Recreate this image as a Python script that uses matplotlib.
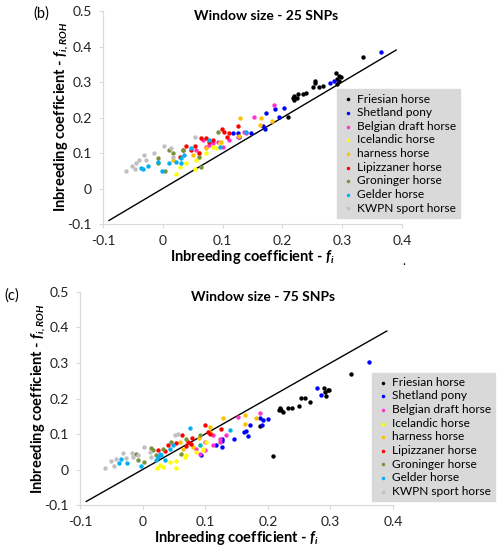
import numpy as np
import matplotlib
matplotlib.use("Agg")
import matplotlib.pyplot as plt

plt.rcParams['font.family'] = ['Lato', 'DejaVu Sans']
plt.rcParams['mathtext.fontset'] = 'custom'
plt.rcParams['mathtext.rm'] = 'Lato'
plt.rcParams['mathtext.it'] = 'Lato:italic'
plt.rcParams['mathtext.bf'] = 'Lato:bold'
plt.rcParams['mathtext.bfit'] = 'Lato:bold:italic'

breeds = ["Friesian horse", "Shetland pony", "Belgian draft horse", "Icelandic horse",
          "harness horse", "Lipizzaner horse", "Groninger horse", "Gelder horse",
          "KWPN sport horse"]
colors = ["#000000", "#0000ff", "#ff33cc", "#ffff00", "#ffc000", "#ff0000",
          "#77933c", "#00b0f0", "#c0c0c0"]

# window size 25 SNPs: (f_i, f_i,ROH)
w25 = {
    "Friesian horse": [(0.334, 0.370), (0.290, 0.326), (0.295, 0.317), (0.298, 0.313), (0.292, 0.308),
                       (0.295, 0.304), (0.291, 0.294), (0.254, 0.304), (0.255, 0.296), (0.251, 0.285),
                       (0.261, 0.285), (0.268, 0.289), (0.240, 0.270), (0.234, 0.267), (0.226, 0.265),
                       (0.220, 0.261), (0.217, 0.256), (0.224, 0.254), (0.220, 0.249), (0.210, 0.202)],
    "Shetland pony": [(0.364, 0.385), (0.286, 0.302), (0.280, 0.296), (0.202, 0.226), (0.188, 0.223),
                      (0.194, 0.202), (0.173, 0.212), (0.167, 0.176), (0.170, 0.169), (0.148, 0.155),
                      (0.117, 0.155), (0.125, 0.157), (0.128, 0.146)],
    "Belgian draft horse": [(0.186, 0.235), (0.153, 0.202), (0.139, 0.157), (0.136, 0.160), (0.125, 0.146),
                            (0.111, 0.136), (0.100, 0.118), (0.092, 0.132), (0.084, 0.127), (0.078, 0.122),
                            (0.067, 0.136), (0.072, 0.118), (0.056, 0.108)],
    "Icelandic horse": [(0.053, 0.056), (0.022, 0.042), (0.028, 0.061), (0.039, 0.071), (0.061, 0.089),
                        (0.072, 0.099), (0.084, 0.118), (0.089, 0.113), (0.095, 0.127), (0.056, 0.080)],
    "harness horse": [(0.129, 0.198), (0.164, 0.198), (0.163, 0.179), (0.182, 0.190), (0.128, 0.148),
                      (0.098, 0.132), (0.061, 0.099), (0.072, 0.113), (0.050, 0.094), (0.017, 0.080)],
    "Lipizzaner horse": [(0.099, 0.167), (0.103, 0.160), (0.111, 0.155), (0.125, 0.176), (0.108, 0.146),
                         (0.072, 0.141), (0.064, 0.141), (0.053, 0.119), (0.039, 0.119), (0.047, 0.108),
                         (0.061, 0.099), (0.028, 0.089), (0.033, 0.108), (0.084, 0.136), (0.078, 0.132)],
    "Groninger horse": [(0.092, 0.160), (0.011, 0.108), (0.017, 0.099), (-0.008, 0.085), (-0.008, 0.071),
                        (0.004, 0.050), (0.033, 0.108), (0.061, 0.089), (0.064, 0.061)],
    "Gelder horse": [(-0.025, 0.063), (-0.037, 0.058), (-0.033, 0.056), (-0.002, 0.050), (-0.008, 0.075),
                     (0.011, 0.071), (0.022, 0.075), (0.031, 0.085), (0.036, 0.094), (0.047, 0.113),
                     (0.031, 0.071), (0.095, 0.118), (0.139, 0.160), (0.078, 0.136)],
    "KWPN sport horse": [(-0.061, 0.050), (-0.051, 0.064), (-0.045, 0.071), (-0.031, 0.094), (-0.040, 0.080),
                         (-0.028, 0.080), (-0.015, 0.101), (0.002, 0.119), (0.014, 0.113), (0.017, 0.089),
                         (0.054, 0.144), (-0.046, 0.054)],
}

# window size 75 SNPs
w75 = {
    "Friesian horse": [(0.333, 0.269), (0.289, 0.230), (0.296, 0.223), (0.292, 0.217), (0.298, 0.223),
                       (0.293, 0.207), (0.268, 0.189), (0.253, 0.202), (0.260, 0.202), (0.250, 0.178),
                       (0.239, 0.172), (0.232, 0.174), (0.219, 0.174), (0.221, 0.167), (0.224, 0.162),
                       (0.218, 0.169), (0.187, 0.122), (0.209, 0.038)],
    "Shetland pony": [(0.362, 0.303), (0.279, 0.230), (0.285, 0.211), (0.188, 0.146), (0.201, 0.141),
                      (0.192, 0.139), (0.191, 0.125), (0.172, 0.125), (0.165, 0.109), (0.162, 0.106),
                      (0.169, 0.094), (0.146, 0.087), (0.127, 0.087), (0.127, 0.081), (0.127, 0.064),
                      (0.117, 0.069), (0.093, 0.040)],
    "Belgian draft horse": [(0.187, 0.158), (0.152, 0.148), (0.133, 0.097), (0.123, 0.087), (0.112, 0.097),
                            (0.112, 0.069), (0.099, 0.078), (0.099, 0.054), (0.091, 0.045), (0.085, 0.059),
                            (0.123, 0.078)],
    "Icelandic horse": [(0.023, 0.005), (0.027, 0.014), (0.032, 0.008), (0.043, 0.022), (0.053, 0.005),
                        (0.053, 0.023), (0.067, 0.036), (0.069, 0.040), (0.085, 0.050), (0.096, 0.059),
                        (0.096, 0.054), (0.091, 0.069), (0.101, 0.078)],
    "harness horse": [(0.129, 0.146), (0.164, 0.153), (0.181, 0.144), (0.164, 0.128), (0.108, 0.120),
                      (0.107, 0.106), (0.090, 0.089), (0.059, 0.078), (0.064, 0.059), (0.080, 0.064)],
    "Lipizzaner horse": [(0.099, 0.125), (0.125, 0.115), (0.104, 0.106), (0.107, 0.101), (0.063, 0.097),
                         (0.079, 0.089), (0.072, 0.078), (0.077, 0.073), (0.069, 0.067), (0.053, 0.075),
                         (0.040, 0.069), (0.035, 0.052), (0.024, 0.054)],
    "Groninger horse": [(0.091, 0.097), (0.069, 0.087), (0.045, 0.078), (0.032, 0.059), (0.013, 0.061),
                        (0.016, 0.056), (-0.011, 0.045), (-0.008, 0.026), (0.003, 0.020), (0.021, 0.040),
                        (0.061, 0.045)],
    "Gelder horse": [(0.075, 0.117), (0.139, 0.111), (0.091, 0.070), (0.048, 0.069), (0.043, 0.059),
                     (0.027, 0.045), (0.024, 0.036), (0.021, 0.026), (0.035, 0.026), (-0.003, 0.010),
                     (-0.025, 0.017), (-0.037, 0.017), (-0.035, 0.031), (0.029, 0.040)],
    "KWPN sport horse": [(-0.060, 0.003), (-0.045, 0.009), (-0.050, 0.024), (-0.043, 0.031), (-0.031, 0.047),
                         (-0.027, 0.033), (-0.017, 0.047), (-0.016, 0.036), (-0.008, 0.040), (0.002, 0.064),
                         (0.011, 0.050), (0.013, 0.036), (0.051, 0.097), (0.056, 0.099)],
}

diag = [-0.09, 0.39]
ticks = [-0.1, 0, 0.1, 0.2, 0.3, 0.4]
yticks = [-0.1, 0, 0.1, 0.2, 0.3, 0.4, 0.5]
ylab = r'Inbreeding coefficient - $\mathbfit{f}_{\mathbfit{i,ROH}}$'
xlab = r'Inbreeding coefficient - $\mathbfit{f}_{\mathbfit{i}}$'

fig = plt.figure(figsize=(5.01, 5.5), dpi=100)


def draw_panel(rect, data, title, title_xy, tag_xy, tag, ylab_xy, xlab_xy, leg_anchor):
	ax = fig.add_axes(rect)
	handles = []
	for name, col in zip(breeds, colors):
		pts = np.array(data[name])
		h = ax.scatter(pts[:, 0], pts[:, 1], s=10, color=col, linewidths=0, zorder=3)
		handles.append(h)
	ax.plot(diag, diag, color='black', lw=1.0, zorder=2)
	ax.set_xlim(-0.1, 0.4)
	ax.set_ylim(-0.1, 0.5)
	ax.set_xticks(ticks)
	ax.set_xticklabels(["-0.1", "0", "0.1", "0.2", "0.3", "0.4"])
	ax.set_yticks(yticks)
	ax.set_yticklabels(["-0.1", "0", "0.1", "0.2", "0.3", "0.4", "0.5"])
	for s in ['top', 'right']:
		ax.spines[s].set_visible(False)
	for s in ['left', 'bottom']:
		ax.spines[s].set_color('#d9d9d9')
		ax.spines[s].set_linewidth(0.8)
	ax.tick_params(direction='out', length=3, color='#d9d9d9', labelsize=10, pad=5, labelcolor='#222222')
	fig.text(title_xy[0], title_xy[1], title, ha='center', va='center', fontsize=10, fontweight='bold')
	fig.text(tag_xy[0], tag_xy[1], tag, ha='left', va='center', fontsize=10.5)
	fig.text(ylab_xy[0], ylab_xy[1], ylab, rotation=90, ha='center', va='center', fontsize=10.5, fontweight='bold')
	fig.text(xlab_xy[0], xlab_xy[1], xlab, ha='center', va='center', fontsize=10.5, fontweight='bold')
	leg = fig.legend(handles, breeds, loc='lower right', bbox_to_anchor=leg_anchor, bbox_transform=fig.transFigure,
	                 fontsize=8.6, frameon=True, fancybox=False, handletextpad=0.1, labelspacing=0.22,
	                 handlelength=1.2, borderpad=0.35, markerscale=0.8, borderaxespad=0)
	leg.get_frame().set_facecolor('#d9d9d9')
	leg.get_frame().set_edgecolor('#d9d9d9')
	leg.get_frame().set_alpha(1)
	return ax


draw_panel([0.2056, 0.5927, 0.597, 0.3873], w25, "Window size - 25 SNPs", (0.531, 0.971),
           (0.066, 0.975), "(b)", (0.124, 0.787), (0.505, 0.533), (0.918, 0.604))
draw_panel([0.1597, 0.0818, 0.6248, 0.3873], w75, "Window size - 75 SNPs", (0.525, 0.46),
           (0.008, 0.462), "(c)", (0.078, 0.275), (0.473, 0.022), (0.988, 0.089))

fig.text(0.804, 0.518, ".", fontsize=9)

fig.savefig("out.png", dpi=100)
